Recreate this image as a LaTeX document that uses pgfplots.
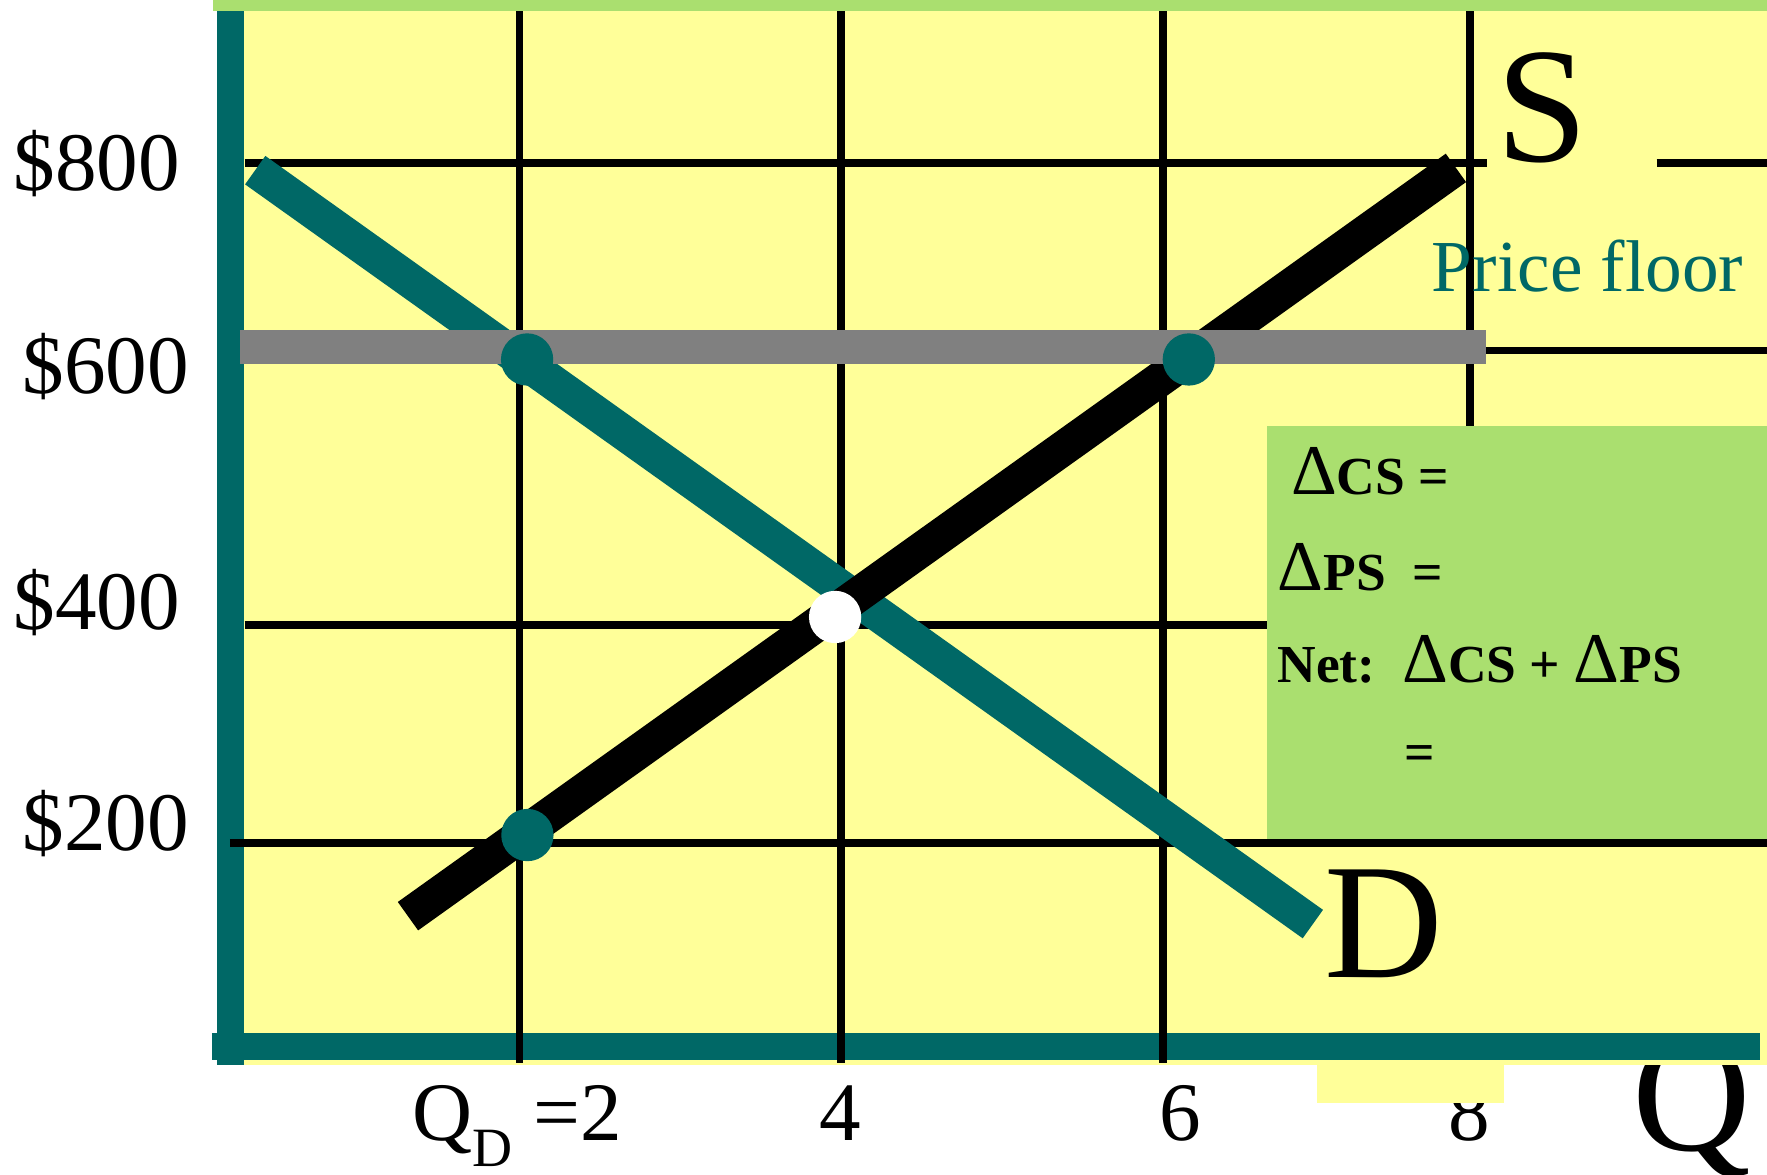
\documentclass[border=0pt]{standalone}
\usepackage{pgfplots}
\pgfplotsset{compat=1.18}
\usepackage{fontspec}
\setmainfont{Liberation Serif}
\definecolor{tealc}{RGB}{0,104,102}
\definecolor{yellowc}{RGB}{255,255,153}
\definecolor{greenc}{RGB}{170,223,111}
\definecolor{grayc}{RGB}{128,128,128}
\newcommand{\Dl}{{\fontsize{18}{18}\selectfont\mdseries Δ}}
\begin{document}
\begin{tikzpicture}
\path[use as bounding box] (0,0) rectangle (15.68,10.42);
\node[anchor=base, inner sep=0pt, font=\fontsize{41.5}{41.5}\selectfont] at (15.01,0.21) {Q};
\begin{axis}[
  at={(2.04cm,1.13cm)}, anchor=south west,
  scale only axis, width=13.64cm, height=9.29cm,
  xmin=0.1563, xmax=9.8472, ymin=16, ymax=945,
  clip=false,
  axis line style={draw=none},
  major tick length=0pt,
  xtick={1.968,4.007,6.146,7.972},
  xticklabels={{Q\raisebox{-0.235cm}{\fontsize{14}{14}\selectfont D} =2},{4},{6},{8}},
  ytick={214,410,620,800},
  yticklabels={{\hspace*{0.16cm}\$200},{\$400},{\hspace*{0.16cm}\$600},{\$800}},
  xticklabel style={anchor=base, inner sep=0pt, yshift=-0.83cm, font=\fontsize{21}{21}\selectfont},
  yticklabel style={anchor=center, inner sep=0pt, xshift=-1.18cm, font=\fontsize{21}{21}\selectfont},
]
% background and axes
\fill[yellowc] (axis cs:0.128,0) rectangle (axis cs:9.8472,945);
\draw[tealc, line width=0.245cm] (axis cs:0.16,0) -- (axis cs:0.16,945);
\draw[tealc, line width=0.24cm] (axis cs:0.0426,16) -- (axis cs:9.805,16);
% green info box
\fill[greenc] (axis cs:6.693,200) rectangle (axis cs:9.8472,567);
% grid lines
\draw[black, line width=0.07cm] (axis cs:1.982,2) -- (axis cs:1.982,945);
\draw[black, line width=0.07cm] (axis cs:4.007,2) -- (axis cs:4.007,945);
\draw[black, line width=0.07cm] (axis cs:6.039,2) -- (axis cs:6.039,945);
\draw[black, line width=0.07cm] (axis cs:7.972,567) -- (axis cs:7.972,945);
\draw[black, line width=0.07cm] (axis cs:0.249,800) -- (axis cs:8.085,800);
\draw[black, line width=0.07cm] (axis cs:9.151,800) -- (axis cs:9.8472,800);
\draw[black, line width=0.07cm] (axis cs:0.249,634) -- (axis cs:9.8472,634);
\draw[black, line width=0.07cm] (axis cs:0.249,390) -- (axis cs:6.693,390);
\draw[black, line width=0.07cm] (axis cs:0.156,197) -- (axis cs:9.8472,197);
% demand and supply
\addplot[tealc, line width=0.31cm] coordinates {(0.316,794) (6.984,125)};
\addplot[black, line width=0.31cm] coordinates {(1.279,132) (7.886,796)};
% price floor
\addplot[grayc, line width=0.30cm] coordinates {(0.220,637) (8.078,637)};
% points
\addplot[only marks, mark=*, mark size=0.225cm, mark options={draw=tealc, fill=tealc}] coordinates {(2.030,626) (6.202,626) (2.032,204)};
\addplot[only marks, mark=*, mark size=0.225cm, mark options={draw=white, fill=white}] coordinates {(3.972,397.5)};
% labels
\node[anchor=base, inner sep=0pt, font=\fontsize{41.5}{41.5}\selectfont] at (axis cs:8.433,802) {S};
\node[anchor=base, inner sep=0pt, font=\fontsize{41.5}{41.5}\selectfont] at (axis cs:7.432,78) {D};
\node[anchor=base west, inner sep=0pt, text=tealc, font=\fontsize{18.5}{18.5}\selectfont] at (axis cs:7.730,686) {Price floor};
\node[anchor=base west, inner sep=0pt, font=\fontsize{13.5}{13.5}\selectfont\bfseries] at (axis cs:6.842,506) {\Dl CS =};
\node[anchor=base west, inner sep=0pt, font=\fontsize{13.5}{13.5}\selectfont\bfseries] at (axis cs:6.757,421) {\Dl PS\ \ =};
\node[anchor=base west, inner sep=0pt, font=\fontsize{13.5}{13.5}\selectfont\bfseries] at (axis cs:6.757,339) {Net:\ \ \Dl CS + \Dl PS};
\node[anchor=center, inner sep=0pt, font=\fontsize{13.5}{13.5}\selectfont\bfseries] at (axis cs:7.659,272) {=};
\end{axis}
\fill[yellowc] (11.69,0.63) rectangle (13.35,1.01);
\fill[greenc] (1.89,10.32) rectangle (15.68,10.42);
\end{tikzpicture}
\end{document}
